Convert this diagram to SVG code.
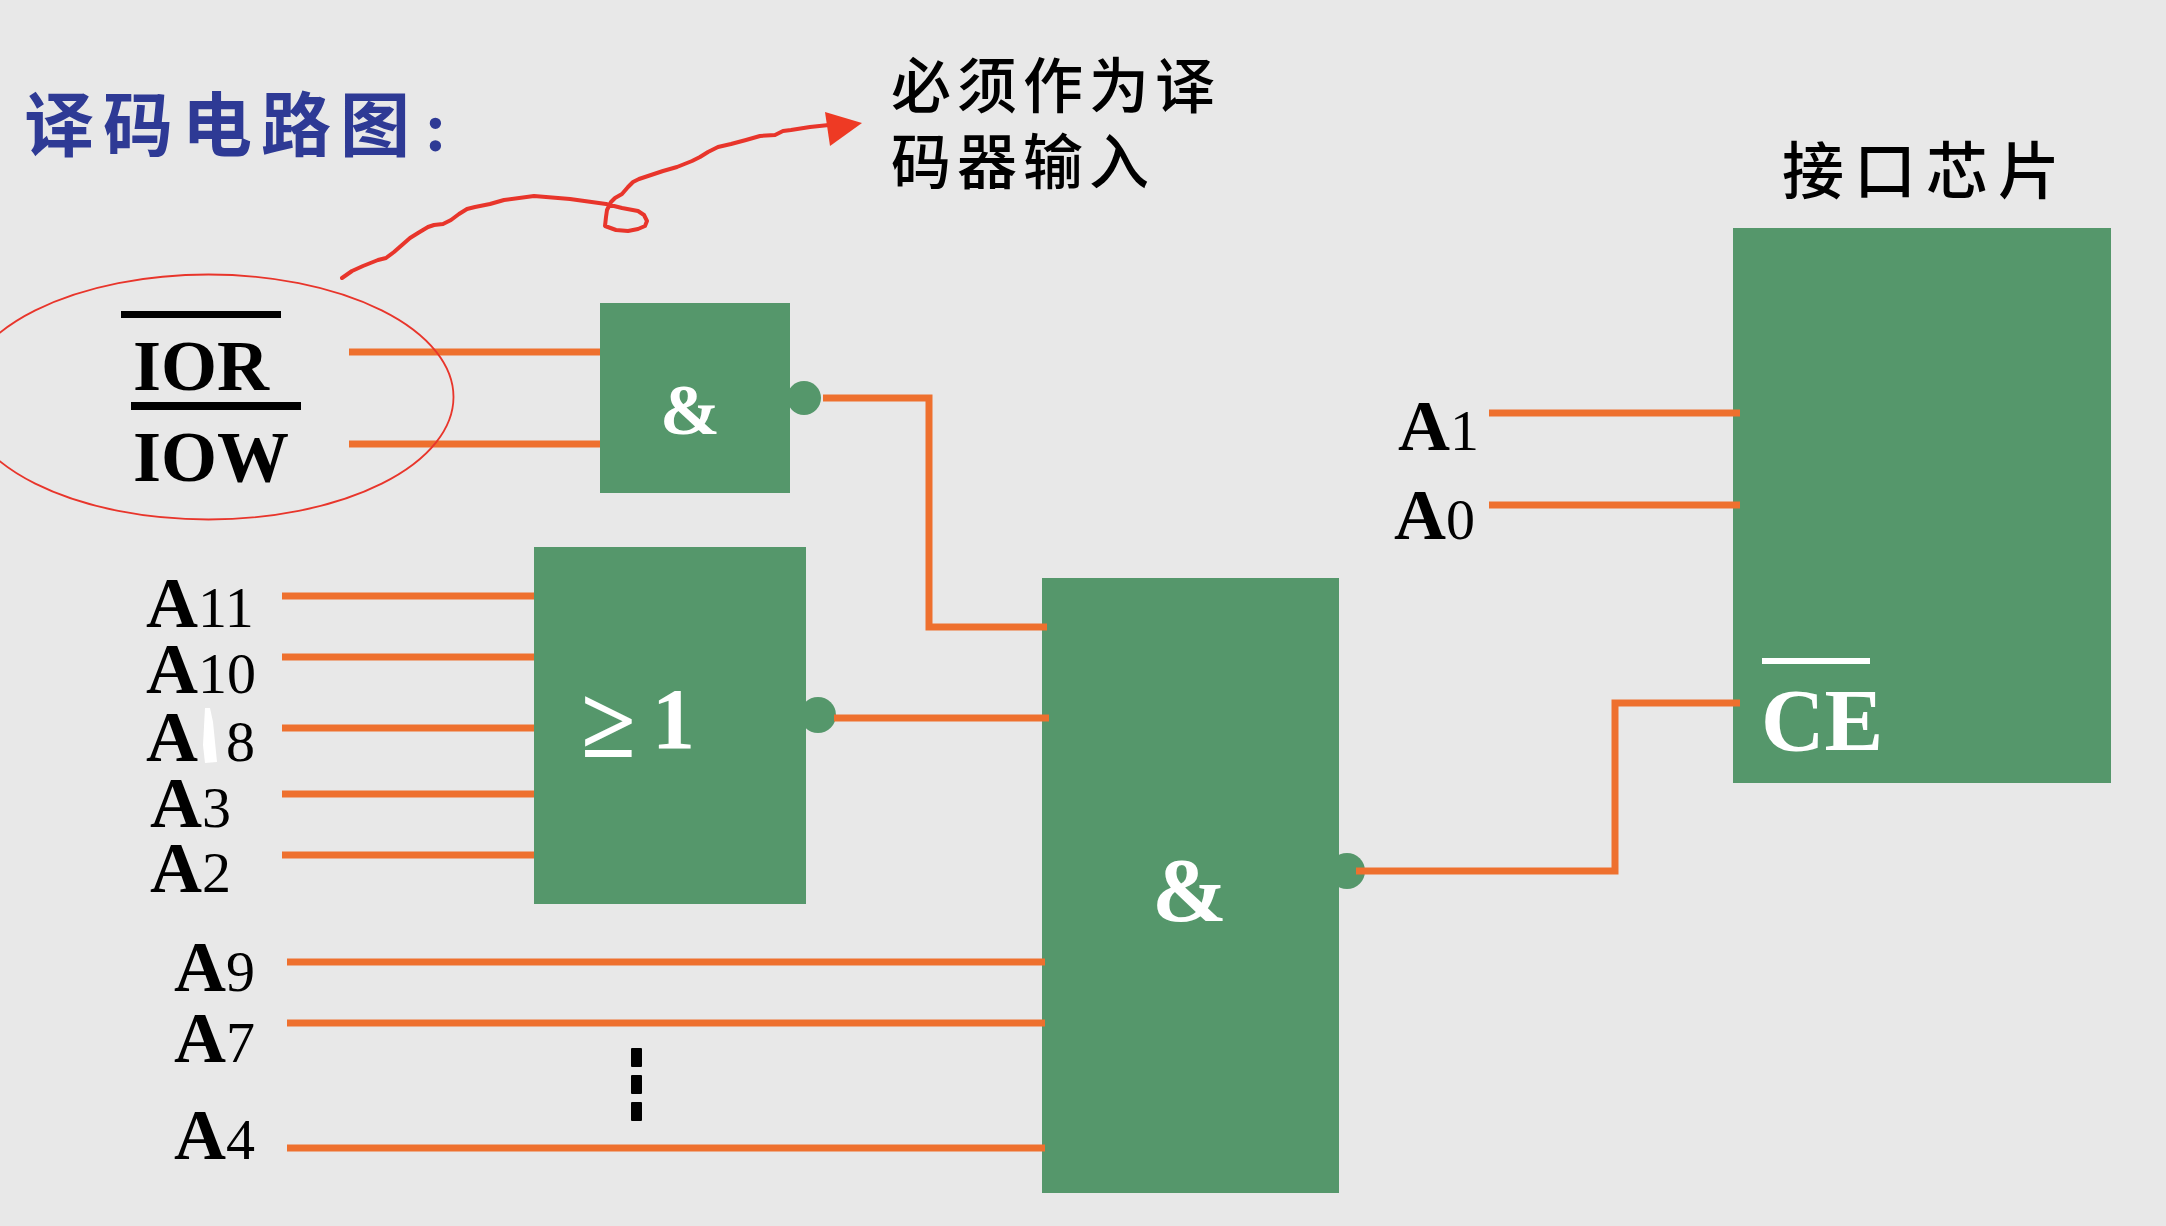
<svg xmlns="http://www.w3.org/2000/svg" width="2166" height="1226" viewBox="0 0 2166 1226">
<style>
.g{fill:#55976b}
.w{fill:none;stroke:#ee702e;stroke-width:7}
.k{fill:#000}
.pin{font-family:"Liberation Serif",serif;font-size:58px;fill:#000}
.pin tspan{font-size:72px;font-weight:bold}
.big{font-family:"Liberation Serif",serif;font-weight:bold;font-size:72px;fill:#000}
.wt{font-family:"Liberation Serif",serif;font-weight:bold;fill:#fff}
.cn{font-family:"Noto Sans CJK SC",sans-serif;font-weight:500;fill:#000}
</style>
<rect width="2166" height="1226" fill="#e8e8e8"/>
<g id="title"><text class="cn" x="24" y="151" font-size="70" letter-spacing="9" style="fill:#2e3a95;font-weight:700">译码电路图<tspan x="424" font-family="Liberation Serif" font-size="70">:</tspan></text></g>
<g id="note"><text class="cn" x="891" y="108" font-size="60" letter-spacing="6">必须作为译</text><text class="cn" x="891" y="184" font-size="60" letter-spacing="6">码器输入</text></g>
<g id="and1">
<circle class="g" cx="804" cy="398" r="17"/>
<rect class="g" x="600" y="303" width="190" height="190"/>
<text class="wt" x="660" y="434" font-size="72">&amp;</text>
</g>
<g id="or1">
<circle class="g" cx="818" cy="715" r="18"/>
<rect class="g" x="534" y="547" width="272" height="357"/>
<text class="wt"><tspan x="581" y="757" font-size="100">≥ </tspan><tspan x="652" y="748" font-size="86">1</tspan></text>
</g>
<g id="and2">
<circle class="g" cx="1347" cy="871" r="18"/>
<rect class="g" x="1042" y="578" width="297" height="615"/>
<text class="wt" x="1152" y="921" font-size="90">&amp;</text>
</g>
<g id="chip">
<rect class="g" x="1733" y="228" width="378" height="555"/>
<rect x="1762" y="658" width="108" height="6" fill="#fff"/>
<text class="wt" x="1761" y="750" font-size="88">CE</text>
<text class="cn" x="1782" y="194" font-size="62" letter-spacing="10">接口芯片</text>
</g>
<g id="inputs">
<rect class="k" x="121" y="311" width="160" height="7"/>
<text class="big" x="133" y="390">IOR</text>
<rect class="k" x="131" y="402" width="170" height="8"/>
<text class="big" x="133" y="481">IOW</text>
<text class="pin" x="146" y="627"><tspan>A</tspan>11</text>
<text class="pin" x="146" y="693"><tspan>A</tspan>10</text>
<text class="pin" x="146" y="761"><tspan>A</tspan><tspan dx="28" style="font-size:58px;font-weight:normal">8</tspan></text>
<path d="M205 708L210 708L213 722L217 762L205 763L203 745Z" fill="#fff"/>
<text class="pin" x="150" y="827"><tspan>A</tspan>3</text>
<text class="pin" x="150" y="892"><tspan>A</tspan>2</text>
<text class="pin" x="174" y="991"><tspan>A</tspan>9</text>
<text class="pin" x="174" y="1062"><tspan>A</tspan>7</text>
<text class="pin" x="174" y="1159"><tspan>A</tspan>4</text>
<text class="pin" x="1398" y="450"><tspan>A</tspan>1</text>
<text class="pin" x="1394" y="539"><tspan>A</tspan>0</text>
<rect class="k" x="631" y="1048" width="11" height="19" rx="1"/>
<rect class="k" x="631" y="1075" width="11" height="19" rx="1"/>
<rect class="k" x="631" y="1102" width="11" height="19" rx="1"/>
</g>
<g id="connectors">
<path class="w" d="M349 352H600M349 444H600"/>
<path class="w" d="M823 398H929V627H1047"/>
<path class="w" d="M282 596H534M282 657H534M282 728H534M282 794H534M282 855H534"/>
<path class="w" d="M834 718H1049"/>
<path class="w" d="M287 962H1045M287 1023H1045M287 1148H1045"/>
<path class="w" d="M1489 413H1740M1489 505H1740"/>
<path class="w" d="M1356 871H1615V703H1740"/>
</g>
<g id="annotation">
<ellipse cx="208.500" cy="397" rx="245" ry="122.500" fill="none" stroke="#e8352b" stroke-width="1.800"/>
<path d="M342 278L352 271L363 266L378 260L386 258L394 252L402 245L410 238L418 233L428 227L434 225L443 224L451 220L459 214L467 209L475 207L490 204L504 200L534 196L570 199L606 204L622 208L638 211L644 215L647 221L645 226L638 229L628 231L616 230L605 226L606 217L607 210L611 202L615 198L622 194L628 187L633 182L639 179L651 175L663 171L677 167L692 161L700 157L708 152L718 147L731 144L746 140L760 136L775 135L783 131L791 130L810 127L829 125" fill="none" stroke="#e8352b" stroke-width="4" stroke-linejoin="round" stroke-linecap="round"/>
<path d="M825 112L862 123L830 146Z" fill="#ee3a24"/>
</g>
</svg>
